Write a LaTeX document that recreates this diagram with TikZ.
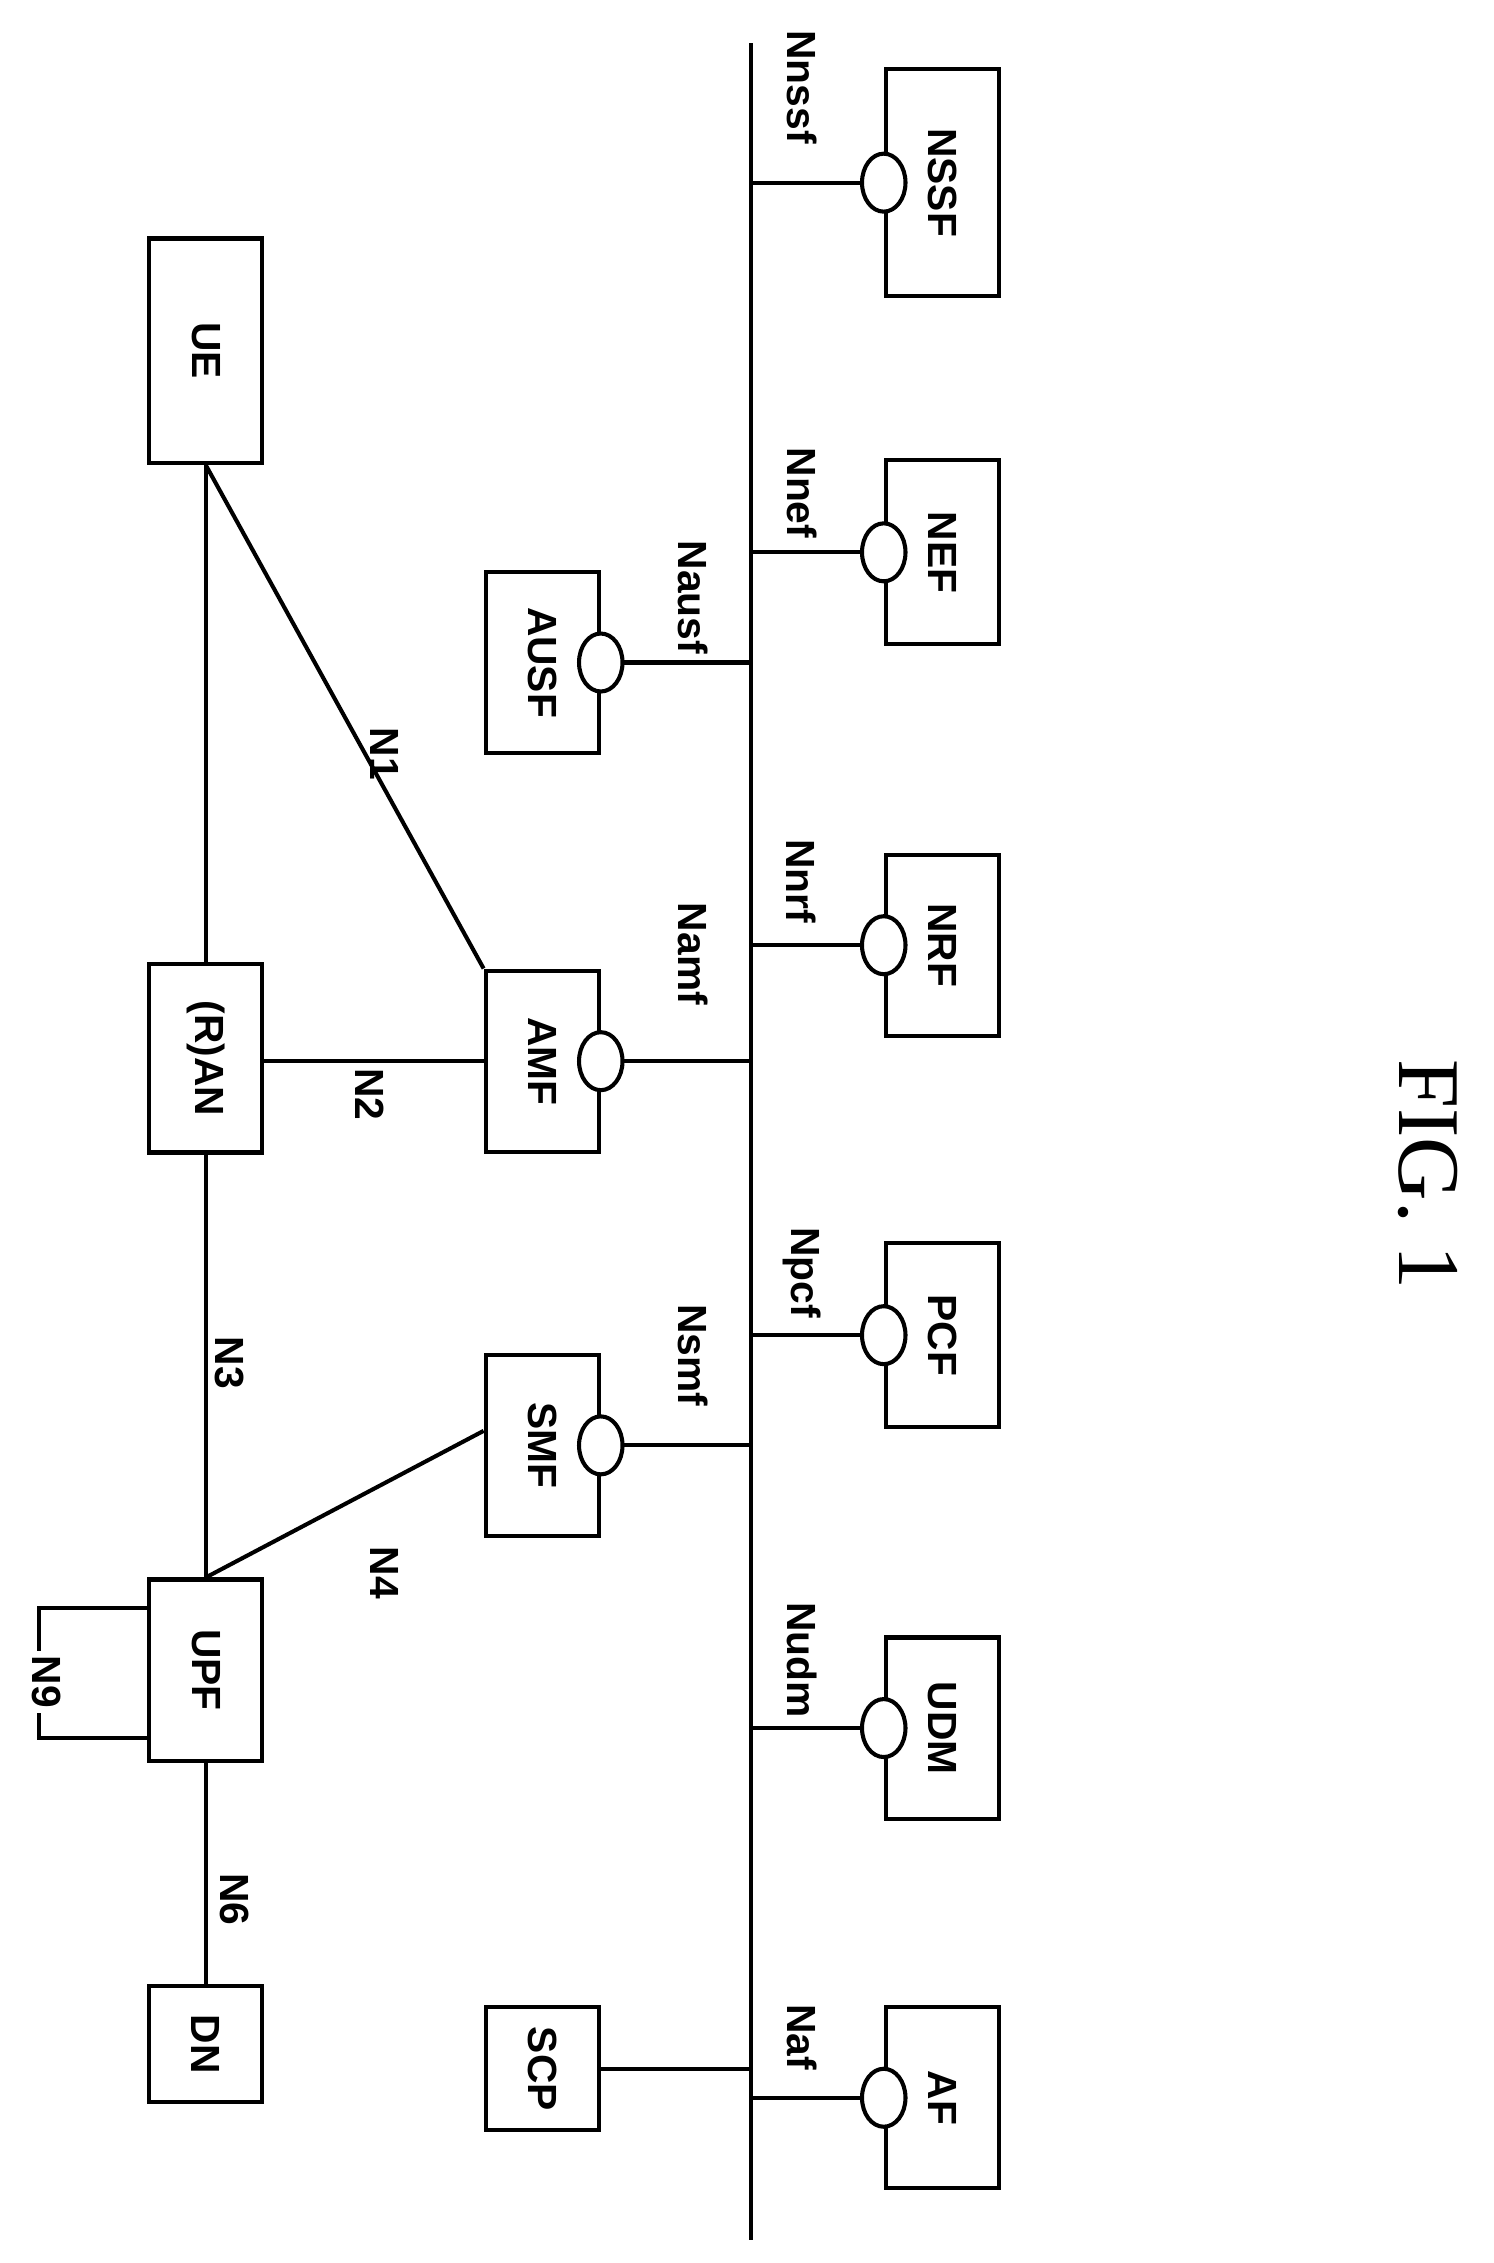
\documentclass[tikz,border=0pt]{standalone}
\usepackage{fontspec}
\setmainfont{Liberation Sans}
\usetikzlibrary{shapes.geometric}
\begin{document}
\begin{tikzpicture}[x=0.1mm,y=-0.1mm,
  box/.style={draw,thick,minimum width=7.8mm,inner sep=0pt},
  lbl/.style={rotate=-90,font=\footnotesize\bfseries},
  port/.style={draw,thick,fill=white,ellipse,minimum width=3mm,minimum height=4mm,inner sep=0pt}]
\useasboundingbox (0,0) rectangle (1030,1561);
% left column
\node[box,minimum height=8mm] (DN) at (142,1410) {};
\node[box,minimum height=12.5mm] (UPF) at (142,1152) {};
\node[box,minimum height=13mm] (RAN) at (142,730) {};
\node[box,minimum height=15.5mm] (UE) at (142,242) {};
% middle column
\node[box,minimum height=8.5mm] (SCP) at (374,1427) {};
\node[box,minimum height=12.5mm] (SMF) at (374,997) {};
\node[box,minimum height=12.5mm] (AMF) at (374,732) {};
\node[box,minimum height=12.5mm] (AUSF) at (374,457) {};
% right column
\node[box,minimum height=12.5mm] (AF) at (650,1447) {};
\node[box,minimum height=12.5mm] (UDM) at (650,1192) {};
\node[box,minimum height=12.7mm] (PCF) at (650,921) {};
\node[box,minimum height=12.5mm] (NRF) at (650,652) {};
\node[box,minimum height=12.7mm] (NEF) at (650,381) {};
\node[box,minimum height=15.7mm] (NSSF) at (650,126) {};
\foreach \n/\t in {DN/DN,UPF/UPF,RAN/(R)AN,UE/UE,SCP/SCP,SMF/SMF,AMF/AMF,AUSF/AUSF,AF/AF,UDM/UDM,PCF/PCF,NRF/NRF,NEF/NEF,NSSF/NSSF}
  \node[lbl] at (\n) {\t};
% bus
\coordinate (bt) at (518,30);
\coordinate (bb) at (518,1545);
\draw[thick] (bt) -- (bb);
\foreach \n in {SMF,AMF,AUSF}{
  \draw[thick] (\n.east) -- (\n.east -| bt);
  \node[port] at (\n.east) {};}
\foreach \n in {AF,UDM,PCF,NRF,NEF,NSSF}{
  \draw[thick] (\n.west) -- (\n.west -| bt);
  \node[port] at (\n.west) {};}
\draw[thick] (SCP.east) -- (SCP.east -| bt);
% reference points
\draw[thick] (DN) -- (UPF);
\draw[thick] (UPF) -- (RAN);
\draw[thick] (RAN) -- (UE);
\draw[thick] (RAN.east |- AMF.west) -- (AMF.west);
\draw[thick] (UE.south) -- (AMF.north west);
\draw[thick] (UPF.north) -- ([yshift=1mm]SMF.west);
\draw[thick] ([yshift=-4.7mm]UPF.west) -- ++(-75,0) |- ([yshift=4.3mm]UPF.west);
\node[lbl,fill=white,inner sep=1pt] at (32,1160) {N9};
\node[lbl] at (162,1310) {N6};
\node[lbl] at (158,940) {N3};
\node[lbl] at (265,1085) {N4};
\node[lbl] at (255,755) {N2};
\node[lbl] at (265,520) {N1};
\node[lbl] at (478,412) {Nausf};
\node[lbl] at (478,658) {Namf};
\node[lbl] at (478,935) {Nsmf};
\node[lbl] at (553,60) {Nnssf};
\node[lbl] at (553,340) {Nnef};
\node[lbl] at (553,608) {Nnrf};
\node[lbl] at (553,878) {Npcf};
\node[lbl] at (553,1145) {Nudm};
\node[lbl] at (553,1405) {Naf};
\node[rotate=-90,font=\fontspec{Liberation Serif}\LARGE] at (985,810) {FIG. 1};
\end{tikzpicture}
\end{document}
